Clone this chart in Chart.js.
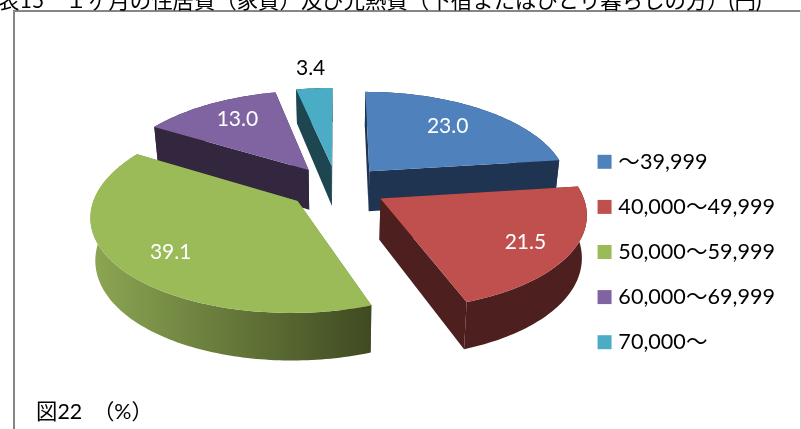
<!DOCTYPE html>
<html>
<head>
<meta charset="utf-8">
<style>
  html, body { margin: 0; padding: 0; background: #fff; overflow: hidden; }
  canvas { display: block; }
</style>
<script src="https://cdn.jsdelivr.net/npm/chart.js@4"></script>
</head>
<body>
<canvas id="chart" width="801" height="429"></canvas>
<script>
// datos del grafico
const titulo = "表15　１ヶ月の住居費（家賃）及び光熱費（下宿またはひとり暮らしの方）(円)";
const nota = "図22　（%）";
const categorias = ["〜39,999", "40,000〜49,999", "50,000〜59,999", "60,000〜69,999", "70,000〜"];
const valores = [23.0, 21.5, 39.1, 13.0, 3.4];

// colores
const colores = ["#4f81bd", "#c0504d", "#9bbb59", "#8064a2", "#4bacc6"];
const coloresLado = ["#1f3450", "#4d1f1e", "#6a8040", "#33263f", "#1e4650"];

const FUENTE = 'Lato, "Noto Sans CJK JP", sans-serif';

// proyeccion del pie en perspectiva
const vista = { cx: 337, cy: 187, a: 200, b: 93.5, kx: 0.14, ky: 0.13, ex: 0.25, ey: 0.23, fondo: 41 };
const ordenDibujo = [4, 3, 0, 2, 1];
const radioEtiqueta = [0.72, 0.82, 0.78, 0.75, 1.3];

function proyectar(x, y) {
  return {
    x: vista.cx + vista.a * x / (1 - vista.kx * y),
    y: vista.cy + vista.b * y / (1 - vista.ky * y),
  };
}

// punto de la cara inferior, un poco mas cerrado hacia el centro
function abajo(x, y) {
  const p = proyectar(x, y);
  return {
    x: vista.cx + (p.x - vista.cx) * 0.98,
    y: p.y + vista.fondo * (1 + 0.14 * y),
  };
}

function poligono(ctx, puntos, color) {
  ctx.beginPath();
  puntos.forEach((p, i) => (i ? ctx.lineTo(p.x, p.y) : ctx.moveTo(p.x, p.y)));
  ctx.closePath();
  ctx.fillStyle = color;
  ctx.fill();
}

function dibujarPorcion(ctx, arco, i) {
  const medio = (arco.startAngle + arco.endAngle) / 2;
  const ox = Math.cos(medio) * vista.ex;
  const oy = Math.sin(medio) * vista.ey;
  const pasos = Math.ceil((arco.endAngle - arco.startAngle) / 0.02);

  const borde = [];
  for (let n = 0; n <= pasos; n++) {
    const t = arco.startAngle + (arco.endAngle - arco.startAngle) * n / pasos;
    borde.push([ox + Math.cos(t), oy + Math.sin(t)]);
  }
  const centro = [ox, oy];
  const arriba = (q) => proyectar(q[0], q[1]);
  const debajo = (q) => abajo(q[0], q[1]);
  const ini = borde[0];
  const fin = borde[borde.length - 1];

  // caras rectas
  poligono(ctx, [arriba(centro), arriba(ini), debajo(ini), debajo(centro)], coloresLado[i]);
  poligono(ctx, [arriba(centro), arriba(fin), debajo(fin), debajo(centro)], coloresLado[i]);

  // cara curva
  let colorLado = coloresLado[i];
  if (i === 2) {
    colorLado = ctx.createLinearGradient(92, 0, 372, 0);
    colorLado.addColorStop(0, "#8ca653");
    colorLado.addColorStop(1, "#3f4a21");
  }
  poligono(ctx, borde.map(arriba).concat(borde.slice().reverse().map(debajo)), colorLado);

  // cara superior
  poligono(ctx, [arriba(centro)].concat(borde.map(arriba)), colores[i]);
}

const pie3d = {
  id: "pie3d",
  beforeDraw(chart) {
    const ctx = chart.ctx;
    ctx.save();
    ctx.fillStyle = "#fff";
    ctx.fillRect(0, 0, 801, 429);
    // marco
    ctx.fillStyle = "#d4d4d4";
    ctx.fillRect(800, 10, 1, 419);
    ctx.fillStyle = "#868686";
    ctx.fillRect(13, 10, 787, 2);
    ctx.fillRect(13, 10, 2, 419);
    ctx.restore();
  },
  // el pie plano no se dibuja, se reemplaza por el de 3D
  beforeDatasetDraw(chart) {
    const ctx = chart.ctx;
    const arcos = chart.getDatasetMeta(0).data;
    ctx.save();
    ordenDibujo.forEach((i) => dibujarPorcion(ctx, arcos[i], i));

    ctx.font = "21px " + FUENTE;
    ctx.textAlign = "center";
    ctx.textBaseline = "middle";
    arcos.forEach((arco, i) => {
      const medio = (arco.startAngle + arco.endAngle) / 2;
      const r = radioEtiqueta[i];
      const p = proyectar(Math.cos(medio) * (0.2 + r), Math.sin(medio) * (vista.ey + r));
      ctx.fillStyle = i === 4 ? "#000" : "#fff";
      ctx.fillText(valores[i].toFixed(1), p.x, p.y);
    });
    ctx.restore();
    return false;
  },
  afterDraw(chart) {
    const ctx = chart.ctx;
    ctx.save();
    ctx.fillStyle = "#000";
    ctx.textAlign = "left";
    ctx.textBaseline = "alphabetic";
    ctx.font = "21.4px " + FUENTE;
    ctx.fillText(titulo, -2, 8);
    ctx.fillText(nota, 36, 419);
    ctx.restore();
  },
};

new Chart(document.getElementById("chart"), {
  type: "pie",
  data: {
    labels: categorias,
    datasets: [
      {
        data: valores,
        backgroundColor: colores,
        borderColor: colores,
        // el cuadro de la leyenda sale de caja 6 + borde 8
        borderWidth: 8,
      },
    ],
  },
  options: {
    responsive: false,
    animation: false,
    layout: { padding: { top: 75, right: 16, bottom: 0, left: 0 } },
    plugins: {
      tooltip: { enabled: false },
      legend: {
        position: "right",
        labels: {
          boxWidth: 6,
          boxHeight: 6,
          padding: 23.5,
          color: "#000",
          font: { family: FUENTE, size: 21.6 },
        },
      },
    },
  },
  plugins: [pie3d],
});
</script>
</body>
</html>
